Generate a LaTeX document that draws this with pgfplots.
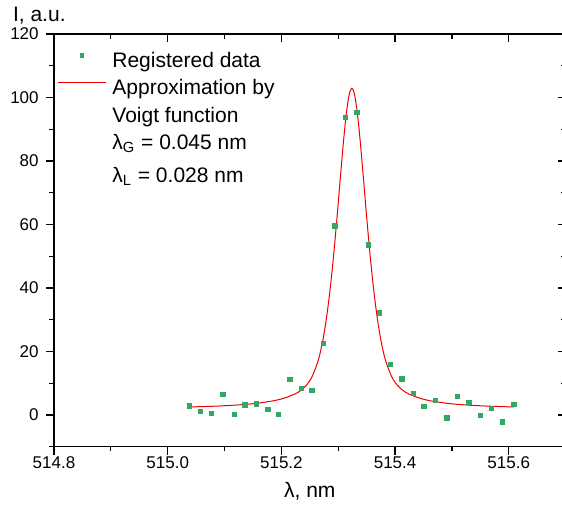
\documentclass[border=0pt]{standalone}
\usepackage{fontspec}
\setmainfont{Liberation Sans}
\usepackage{pgfplots}
\pgfplotsset{compat=1.18}
\definecolor{ptgreen}{RGB}{50,168,98}
\definecolor{fitred}{RGB}{240,0,0}

\pgfplotsset{
  base/.style={
    width=255.8pt, height=206.35pt, scale only axis,
    xmin=514.8, xmax=515.7, ymin=-10, ymax=120,
    xtick={514.8,515.0,515.2,515.4,515.6},
    minor xtick={514.9,515.1,515.3,515.5,515.7},
    ytick={0,20,40,60,80,100,120},
    minor ytick={-10,10,30,50,70,90,110},
    major tick length=4pt, minor tick length=2.3pt,
    axis line style={line width=0.65pt},
    every tick/.style={black, line width=0.65pt},
    every minor tick/.style={black, line width=0.65pt},
  },
  marklegend/.style={legend image code/.code={\draw[##1, mark size=0.9pt] plot coordinates {(12pt,3pt)};}},
  linelegend/.style={legend image code/.code={\draw[##1] (0pt,3pt) -- (24pt,3pt);}},
}

\begin{document}
\begin{tikzpicture}
\begin{axis}[
  base,
  tick align=outside,
  xtick pos=left, ytick pos=left,
  /pgf/number format/assume math mode=true,
  tick label style={font=\fontsize{8.5}{10}\selectfont},
  xticklabel style={/pgf/number format/.cd, fixed, fixed zerofill, precision=1, 1000 sep={}, /tikz/inner ysep=1pt},
  yticklabel style={/pgf/number format/.cd, fixed, precision=0, /tikz/inner xsep=3.5pt},
  xlabel={λ, nm},
  xlabel style={font=\fontsize{10.5}{12}\selectfont, yshift=-2pt},
  ylabel={I, a.u.},
  every axis y label/.style={at={(rel axis cs:0,1)}, anchor=west, xshift=-24pt, yshift=9pt, font=\fontsize{10.5}{12}\selectfont},
  legend style={draw=none, fill=none, at={(rel axis cs:0,1)}, anchor=north west,
    xshift=1.5pt, yshift=-9pt, inner sep=0pt,
    font=\fontsize{10.5}{12.5}\selectfont, row sep=4.5pt,
    nodes={inner ysep=0pt, inner xsep=3pt}},
  legend cell align=left,
]
% fitted Voigt profile
\addplot[fitred, line width=0.5pt, smooth, forget plot] coordinates {
(515.038,2.52) (515.084,2.78) (515.124,3.16) (515.154,3.62) (515.184,4.40)
(515.204,5.25) (515.224,6.62) (515.234,7.72) (515.244,9.36) (515.254,12.07)
(515.264,16.72) (515.269,20.16) (515.274,24.58) (515.279,30.15) (515.284,36.96)
(515.289,45.05) (515.294,54.34) (515.299,64.57) (515.304,75.27) (515.309,85.64)
(515.314,94.56) (515.319,100.69) (515.324,102.9)
(515.329,100.69) (515.334,94.56) (515.339,85.64) (515.344,75.27) (515.349,64.57)
(515.354,54.34) (515.359,45.05) (515.364,36.96) (515.369,30.15) (515.374,24.58)
(515.379,20.16) (515.384,16.72) (515.394,12.07) (515.404,9.36) (515.414,7.72)
(515.424,6.62) (515.444,5.25) (515.464,4.40) (515.494,3.62) (515.524,3.16)
(515.564,2.78) (515.609,2.52)
};
% registered data
\addplot[only marks, mark=square*, mark size=1.1pt, color=ptgreen, marklegend] coordinates {
(515.038,2.84) (515.058,1.04) (515.077,0.41) (515.097,6.41) (515.117,0.09)
(515.136,3.16) (515.156,3.48) (515.176,1.67) (515.195,0.09) (515.215,11.25)
(515.235,8.40) (515.254,7.77) (515.274,22.6) (515.294,59.5) (515.313,93.7)
(515.333,95.3) (515.353,53.6) (515.372,32.1) (515.392,16.0) (515.412,11.37)
(515.432,6.82) (515.451,2.72) (515.471,4.52) (515.491,-0.95) (515.510,5.88)
(515.530,3.89) (515.550,-0.22) (515.569,2.09) (515.589,-2.12) (515.609,3.35)
};
\addlegendentry{Registered data}
\addlegendimage{fitred, line width=0.5pt, linelegend}
\addlegendentry{Approximation by}
\addlegendimage{empty legend}
\addlegendentry{Voigt function}
\addlegendimage{empty legend}
\addlegendentry{λ\textsubscript{G} = 0.045 nm}
\addlegendimage{empty legend}
\addlegendentry{\rule{0pt}{10.5pt}λ\textsubscript{L} = 0.028 nm}
\end{axis}
\begin{axis}[
  base,
  tick align=inside,
  xtick pos=right, ytick pos=right,
  xticklabels={}, yticklabels={},
]
\end{axis}
\pgfresetboundingbox
\path[use as bounding box] ([xshift=-27pt,yshift=-31.65pt]current axis.south west) rectangle ([xshift=-1.8pt,yshift=17pt]current axis.north east);
\end{tikzpicture}
\end{document}
